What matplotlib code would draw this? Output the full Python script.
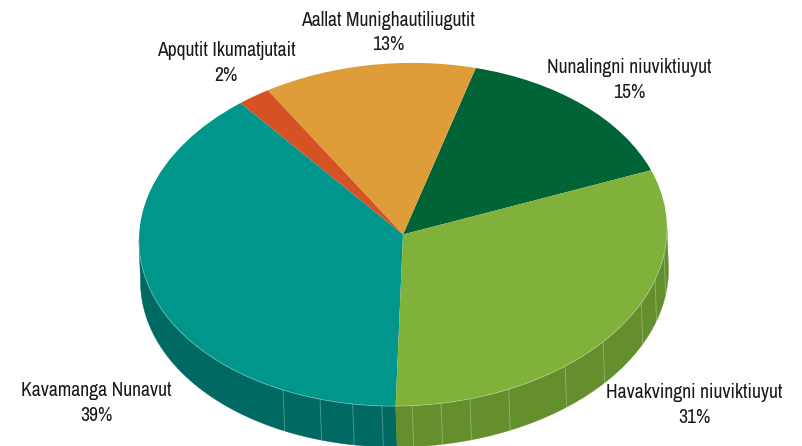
import numpy as np
import matplotlib
matplotlib.use("Agg")
import matplotlib.pyplot as plt
from matplotlib.transforms import Affine2D

categories = ["Nunalingni niuviktiuyut", "Aallat Munighautiliugutit", "Apqutit Ikumatjutait",
              "Kavamanga Nunavut", "Havakvingni niuviktiuyut"]
shares = [15, 13, 2, 39, 31]
top_colors = ["#006437", "#DE9D39", "#D65224", "#00968C", "#80B13A"]
side_colors = ["#00492A", "#A8772B", "#A03E1B", "#006A62", "#638F2D"]
seam_angles = [243, 251.7, 259, 265.4, 272, 278.3, 284.7, 293.6, 307.9, 319.3, 334.5, 342.7, 351.5]

W, H = 803, 446
CX, CY, RX, RY, DEPTH = 403, 234.5, 264, 171.5, 41
SLANT = 1.5
TILT = 6 / RY
START = 20
label_px = {
    "Nunalingni niuviktiuyut": (629, 80),
    "Aallat Munighautiliugutit": (388, 32.5),
    "Apqutit Ikumatjutait": (226, 63),
    "Kavamanga Nunavut": (96, 403),
    "Havakvingni niuviktiuyut": (694, 405),
}

plt.rcParams["font.family"] = ["Archivo Narrow", "Liberation Sans", "DejaVu Sans"]
fig = plt.figure(figsize=(W / 100, H / 100), dpi=100)
ax = fig.add_axes([0, 0, 1, 1])

wedges, _ = ax.pie(shares, colors=top_colors, startangle=START, counterclock=True, radius=1,
                   wedgeprops=dict(linewidth=0, zorder=5))
ax.set_aspect("auto")
ax.set_xlim(-CX / RX, (W - CX) / RX)
ax.set_ylim(-(H - CY) / RY, CY / RY)
ax.axis("off")

# The disc is slightly tilted: a small shear of y with x
tilted = Affine2D.from_values(1, TILT, 0, 1, 0, 0) + ax.transData
for w in wedges:
    w.set_transform(tilted)

d = DEPTH / RY
dx = SLANT / RX

# side wall: visible for the front half of the ellipse
edges = START + np.cumsum([0] + shares) * 3.6
for a, b, col in zip(edges[:-1], edges[1:], side_colors):
    for lo, hi in ((a, b), (a - 360, b - 360)):
        lo2, hi2 = max(lo, 180), min(hi, 360)
        if hi2 > lo2:
            t = np.radians(np.linspace(lo2, hi2, 200))
            xs = np.r_[np.cos(t), np.cos(t)[::-1] + dx]
            ys = np.r_[np.sin(t), np.sin(t)[::-1] - d]
            ax.fill(xs, ys, color=col, linewidth=0.3, zorder=2, transform=tilted)

# seams on the side wall
for s in seam_angles:
    t = np.radians(s)
    ax.plot([np.cos(t), np.cos(t) + dx], [np.sin(t), np.sin(t) - d],
            color="#FFFFFF", alpha=0.28, lw=0.7, zorder=3, transform=tilted)

# light rim on the front edge
t = np.radians(np.linspace(180, 360, 400))
ax.plot(np.cos(t), np.sin(t), color="#FFFFFF", alpha=0.35, lw=0.6, zorder=6, transform=tilted)

for name, share in zip(categories, shares):
    px, py = label_px[name]
    fig.text(px / W, 1 - py / H, f"{name}\n{share}%", ha="center", va="center",
             fontsize=14.2, color="#1A1A1A", linespacing=1.34)

fig.savefig("out.png", dpi=100)
